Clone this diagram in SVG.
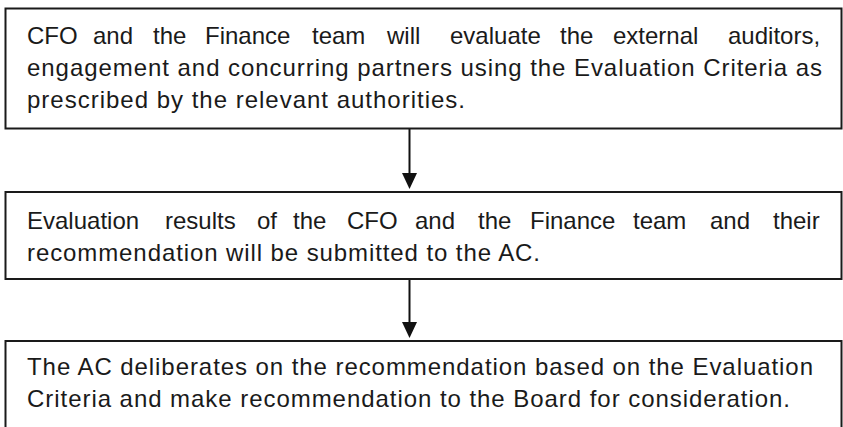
<svg xmlns="http://www.w3.org/2000/svg" width="843" height="427" viewBox="0 0 843 427">
<style>
.box{fill:#fff;stroke:#1a1a1a;stroke-width:2}
.t{font-family:"Liberation Sans",Arial,sans-serif;font-size:24px;fill:#1a1a1a}
.c{stroke:#111;stroke-width:2;fill:none}
</style>
<defs>
<marker id="ah" markerWidth="8" markerHeight="8" refX="7.5" refY="4" orient="auto" markerUnits="userSpaceOnUse" viewBox="0 0 8 8">
<path d="M0,0 L8,4 L0,8 Z" fill="#111"/>
</marker>
</defs>
<rect width="843" height="427" fill="#fff"/>
<g id="connectors">
<line class="c" x1="409.5" y1="129" x2="409.5" y2="174"/>
<path d="M402,173 L417,173 L409.5,189 Z" fill="#111"/>
<line class="c" x1="409.5" y1="280" x2="409.5" y2="323"/>
<path d="M402,322 L417,322 L409.5,338 Z" fill="#111"/>
</g>
<g id="node1">
<rect class="box" x="5.5" y="8.5" width="836" height="120"/>
<text class="t" y="44"><tspan x="27">CFO</tspan><tspan x="93">and</tspan><tspan x="153">the</tspan><tspan x="205">Finance</tspan><tspan x="312">team</tspan><tspan x="387">will</tspan><tspan x="450">evaluate</tspan><tspan x="560">the</tspan><tspan x="613">external</tspan><tspan x="728">auditors,</tspan></text>
<text class="t" x="27" y="76" textLength="795" lengthAdjust="spacing">engagement and concurring partners using the Evaluation Criteria as</text>
<text class="t" x="27" y="108" textLength="438" lengthAdjust="spacing">prescribed by the relevant authorities.</text>
</g>
<g id="node2">
<rect class="box" x="5.5" y="192" width="836" height="87"/>
<text class="t" y="229"><tspan x="27">Evaluation</tspan><tspan x="165">results</tspan><tspan x="257">of</tspan><tspan x="293">the</tspan><tspan x="347">CFO</tspan><tspan x="415">and</tspan><tspan x="478">the</tspan><tspan x="530">Finance</tspan><tspan x="633">team</tspan><tspan x="710">and</tspan><tspan x="773">their</tspan></text>
<text class="t" x="27" y="261" textLength="513" lengthAdjust="spacing">recommendation will be submitted to the AC.</text>
</g>
<g id="node3">
<rect class="box" x="5.5" y="341" width="836" height="100"/>
<text class="t" x="27" y="375" textLength="786" lengthAdjust="spacing">The AC deliberates on the recommendation based on the Evaluation</text>
<text class="t" x="27" y="407" textLength="763" lengthAdjust="spacing">Criteria and make recommendation to the Board for consideration.</text>
</g>
</svg>
